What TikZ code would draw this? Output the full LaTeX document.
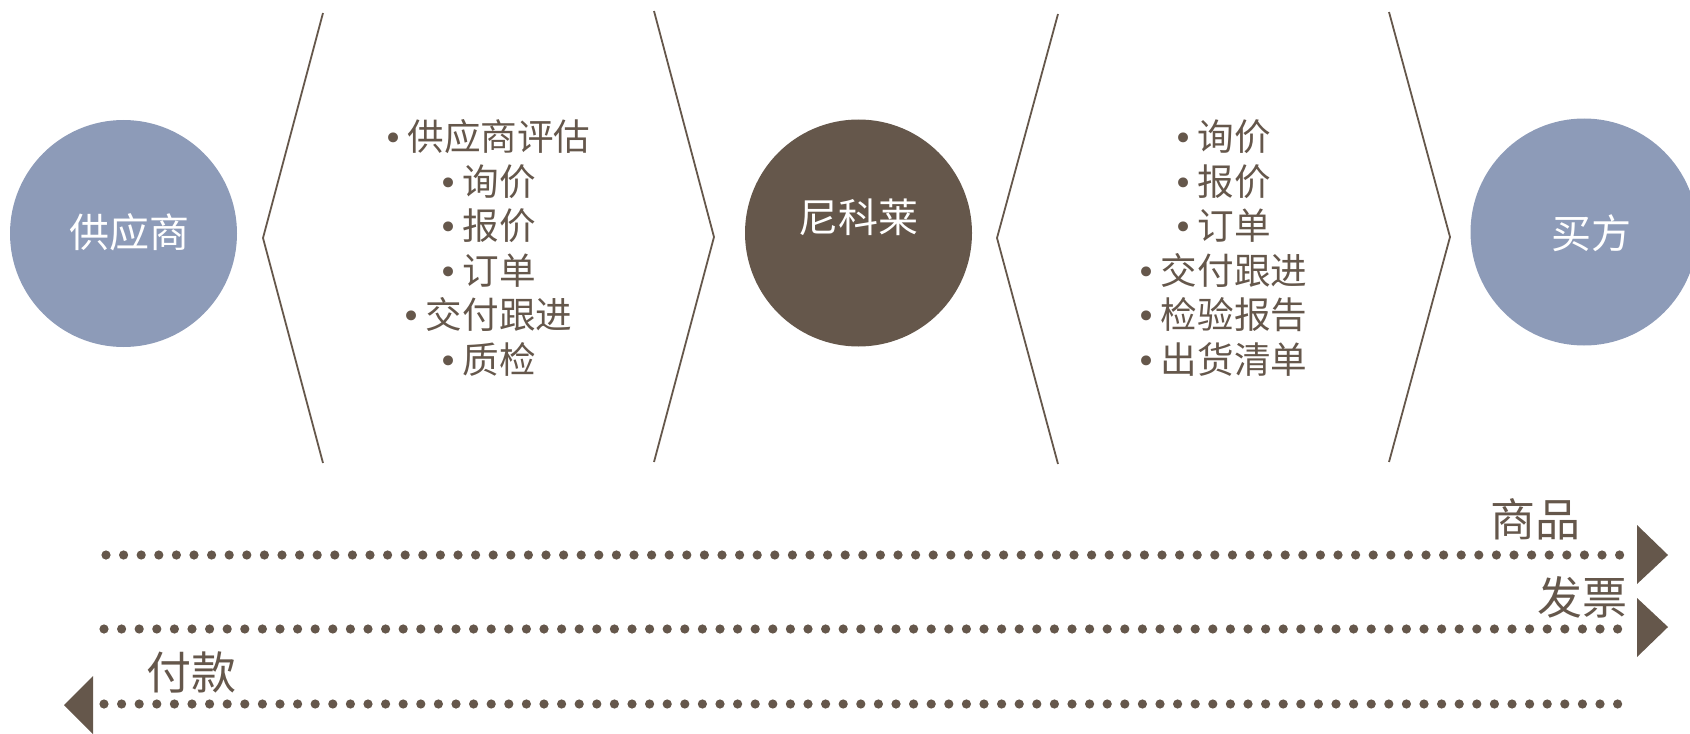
\documentclass[tikz,border=0pt]{standalone}
\usepackage{fontspec}
\setmainfont{Noto Sans CJK SC}
\newfontfamily\bulfont{DejaVu Sans}
\definecolor{brownc}{HTML}{65574B}
\definecolor{bluec}{HTML}{8D9BB8}
\begin{document}
\begin{tikzpicture}[x=0.5pt,y=-0.5pt,
  every node/.style={inner sep=0pt},
  hub/.style={circle, minimum size=113.5pt},
  hubtext/.style={text=white, font=\fontsize{20}{24}\selectfont},
  listtxt/.style={align=center, text=brownc, font=\fontsize{18.3}{22.3}\selectfont},
  flowlabel/.style={text=brownc, font=\fontsize{22.5}{26}\selectfont},
  chev/.style={draw=brownc, line width=0.9pt},
  dots/.style={draw=brownc, line width=4.6pt, line cap=round, dash pattern=on 0pt off 8.8pt},
  tip/.style={fill=brownc}]
\useasboundingbox (0,0) rectangle (1690,733);
% circles
\node[hub, fill=bluec] (sup) at (123.5,233.5) {};
\node[hubtext] (suplabel) at (129,232) {供应商};
\node[hub, fill=brownc] (nik) at (858.5,233) {};
\node[hubtext] (niklabel) at (858,217) {尼科莱};
\node[hub, fill=bluec] (buy) at (1584,232) {};
\node[hubtext] (buylabel) at (1591,233) {买方};
% chevrons
\draw[chev] (323,13) -- (263,238) -- (323,463);
\draw[chev] (654,11) -- (714,237) -- (654,462);
\draw[chev] (1058,14) -- (997,238) -- (1058,464);
\draw[chev] (1389,12) -- (1450,237) -- (1389,462);
% lists
\newcommand{\bl}{{\bulfont\fontsize{17}{17}\selectfont •}\hspace{2pt}}
\node[listtxt] (lista) at (487,248) {\bl 供应商评估\\ \bl 询价\\ \bl 报价\\ \bl 订单\\ \bl 交付跟进\\ \bl 质检};
\node[listtxt] (listb) at (1222,248) {\bl 询价\\ \bl 报价\\ \bl 订单\\ \bl 交付跟进\\ \bl 检验报告\\ \bl 出货清单};
% flows
\coordinate (g0) at (106,555); \coordinate (g1) at (1621,555);
\coordinate (i0) at (104,629); \coordinate (i1) at (1621,629);
\coordinate (p0) at (1621,704); \coordinate (p1) at (104,704);
\draw[dots] (g0) -- (g1);
\draw[dots] (i0) -- (i1);
\draw[dots] (p1) -- (p0);
\fill[tip] (1637,525) -- (1668,555) -- (1637,584) -- cycle;
\fill[tip] (1637,598) -- (1668,627) -- (1637,657) -- cycle;
\fill[tip] (93,676) -- (64,705) -- (93,734) -- cycle;
\node[flowlabel] (goods) at (1535,519) {商品};
\node[flowlabel] (invoice) at (1582,597) {发票};
\node[flowlabel] (pay) at (191.5,672.5) {付款};
\end{tikzpicture}
\end{document}
